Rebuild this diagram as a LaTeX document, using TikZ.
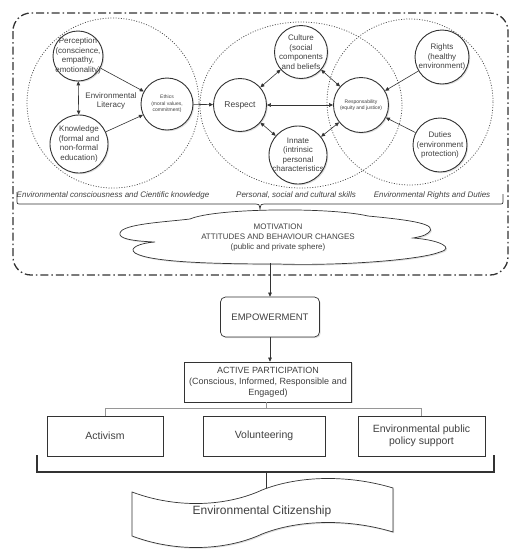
\documentclass[tikz,border=0pt]{standalone}
\usepackage{fontspec}
\setmainfont{Liberation Sans}
\usetikzlibrary{positioning,arrows.meta,shadows}
\definecolor{envink}{RGB}{51,51,51}
\definecolor{envtext}{RGB}{64,64,64}
\definecolor{envring}{RGB}{80,80,80}
\definecolor{envtree}{RGB}{150,150,150}

\begin{document}
\begin{tikzpicture}[
  x=1pt,y=-1pt,
  every node/.style={text=envtext},
  softshadow/.style={drop shadow={shadow xshift=1.2pt,shadow yshift=-1.2pt,opacity=0.25}},
  circ/.style={circle,draw=envink,fill=white,line width=0.9pt,inner sep=-14pt,align=center,font=\fontsize{8}{9.5}\selectfont,softshadow},
  tinytxt/.style={font=\fontsize{5}{6.5}\selectfont},
  ring/.style={draw=envring,line width=0.75pt,dash pattern=on 1pt off 1.6pt},
  arr/.style={-{Triangle[length=4pt,width=3.6pt]},draw=envink,line width=0.6pt},
  dbl/.style={{Triangle[length=4pt,width=3.6pt]}-{Triangle[length=4pt,width=3.6pt]},draw=envink,line width=0.6pt},
  caption/.style={font=\fontsize{8}{9.5}\selectfont\itshape},
  bx/.style={rectangle,draw=envink,fill=white,line width=0.7pt,inner sep=1pt,align=center,minimum height=40pt,softshadow},
  frame/.style={draw=envink,line width=1.3pt,dash pattern=on 8pt off 3pt on 1.5pt off 3pt,rounded corners=18pt},
  tree/.style={draw=envtree,line width=0.8pt},
  brk/.style={draw=envink,line width=1.2pt}
]
\useasboundingbox (0,0) rectangle (520,550);
\fill[white] (0,0) rectangle (520,550);

% outer frame and the three fields
\draw[frame] (13,13) rectangle (508,275);
\draw[ring] (113,103) ellipse [x radius=86, y radius=85];
\draw[ring] (301,105) ellipse [x radius=101, y radius=83];
\draw[ring] (410,102) ellipse [x radius=83, y radius=83];

% circles
\node[circ,minimum size=50pt] (perception) at (78,56) {Perception\\(conscience,\\empathy,\\emotionality)};
\node[circ,minimum size=58pt] (knowledge) at (79,144) {Knowledge\\(formal and\\non-formal\\education)};
\node[circ,minimum size=52pt,tinytxt] (ethics) at (167,104) {Ethics\\(moral values,\\commitment)};
\node[circ,minimum size=53pt,font=\fontsize{8.5}{10}\selectfont] (respect) at (240,105) {Respect};
\node[circ,minimum size=53pt] (culture) at (301,52) {Culture\\(social\\components\\and beliefs};
\node[circ,minimum size=55pt,tinytxt] (resp) at (361,105) {Responsability\\(equity and justice)};
\node[circ,minimum size=58pt] (innate) at (298,155) {Innate\\(intrinsic\\personal\\characteristics};
\node[circ,minimum size=54pt] (rights) at (442,57) {Rights\\(healthy\\environment)};
\node[circ,minimum size=54pt] (duties) at (440,145) {Duties\\(environment\\protection)};
\node[align=center,font=\fontsize{8}{9.5}\selectfont] (literacy) at (111,101) {Environmental\\Literacy};

\draw[dbl] (perception) -- (knowledge);
\draw[arr] (perception) -- (ethics);
\draw[arr] (knowledge) -- (ethics);
\draw[arr] (ethics) -- (respect);
\draw[dbl] (respect) -- (culture);
\draw[dbl] (respect) -- (innate);
\draw[dbl] (respect) -- (resp);
\draw[dbl] (culture) -- (resp);
\draw[dbl] (innate) -- (resp);
\draw[arr] (rights) -- (resp);
\draw[arr] (duties) -- (resp);

% captions and brace
\node[caption] (capleft) at (113,195) {Environmental consciousness and Cientific knowledge};
\node[caption] (capmid) at (296,195) {Personal, social and cultural skills};
\node[caption] (capright) at (432,195) {Environmental Rights and Duties};
\draw[envink,line width=0.7pt] (17,192) -- (17,200) .. controls (17,204) .. (21,204) -- (256,204)
  .. controls (259,204) .. (260,209) .. controls (261,204) .. (264,204) -- (499,204)
  .. controls (503,204) .. (503,200) -- (503,194);

% cloud
\draw[envink,fill=white,line width=0.7pt,softshadow] (120,233)
  .. controls (122,224) and (165,222) .. (190,219)
  .. controls (215,208) and (330,207) .. (368,216)
  .. controls (410,220) and (440,224) .. (428,233)
  .. controls (425,236) and (418,237) .. (413,238)
  .. controls (440,240) and (455,248) .. (440,252)
  .. controls (420,260) and (340,266) .. (278,264)
  .. controls (210,264) and (150,262) .. (135,253)
  .. controls (128,248) and (140,243) .. (155,242)
  .. controls (130,241) and (118,238) .. (120,233) -- cycle;
\node[align=center,font=\fontsize{8}{10}\selectfont] (motivation) at (278,238) {MOTIVATION\\ATTITUDES AND BEHAVIOUR CHANGES\\(public and private sphere)};
\coordinate (cloudfoot) at (270,263);

% lower chain
\node[bx,rounded corners=5pt,minimum width=99pt,font=\fontsize{9.5}{11}\selectfont] (empower) at (270,317) {EMPOWERMENT};
\node[bx,minimum width=167pt,font=\fontsize{9}{11}\selectfont] (ap) at (268,382) {ACTIVE PARTICIPATION\\(Conscious, Informed, Responsible and\\Engaged)};
\draw[arr] (cloudfoot) -- (empower);
\draw[arr] (empower) -- (empower |- ap.north);

\node[bx,minimum width=116pt,font=\fontsize{10.5}{12.5}\selectfont] (activism) at (105,436) {Activism};
\node[bx,minimum width=122pt,font=\fontsize{10.5}{12.5}\selectfont] (volunteer) at (264,436) {Volunteering};
\node[bx,minimum width=127pt,font=\fontsize{10.5}{12.5}\selectfont] (policy) at (421.5,436) {Environmental public\\policy support};
\coordinate (branch) at (266,408);
\draw[tree] (ap.south -| branch) -- (branch);
\draw[tree] (activism.north) -- (activism.north |- branch) -- (policy.north |- branch) -- (policy.north);

% bracket and banner
\coordinate (bracl) at (37,455);
\coordinate (bracr) at (494,455);
\coordinate (bracmid) at (266,472);
\coordinate (bantop) at (266,489);
\draw[brk] (bracl) |- (bracmid) -| (bracr);
\draw[draw=envink,line width=0.8pt] (bracmid) -- (bantop);
\draw[envink,fill=white,line width=0.7pt,softshadow] (132,492)
  .. controls (180,510) and (230,505) .. (262,490)
  .. controls (300,475) and (350,475) .. (393,488) -- (393,532)
  .. controls (350,519) and (300,519) .. (262,534)
  .. controls (230,549) and (180,554) .. (132,536) -- cycle;
\node[font=\fontsize{12}{14}\selectfont] (citizen) at (262,511) {Environmental Citizenship};
\end{tikzpicture}
\end{document}
